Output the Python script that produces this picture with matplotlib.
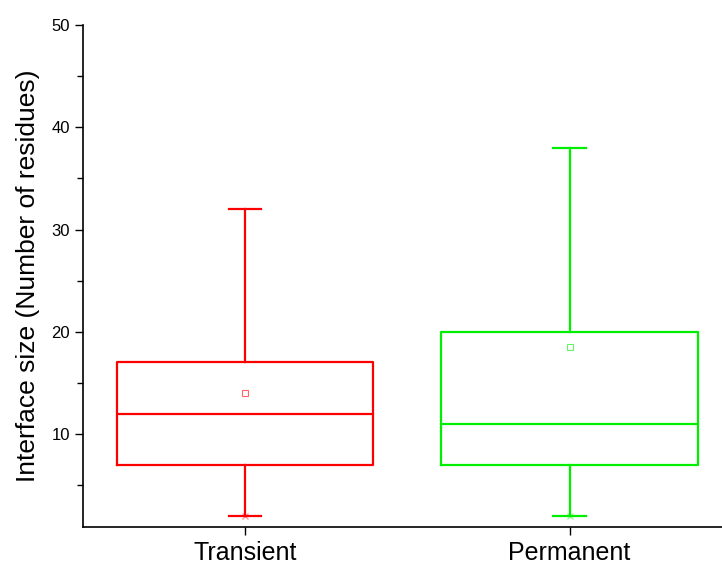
import numpy as np
import matplotlib.pyplot as plt
from matplotlib.ticker import MultipleLocator

plt.rcParams['font.family'] = ['Liberation Sans', 'DejaVu Sans']

# box statistics
groups = ['Transient', 'Permanent']
colors = ['#ff0000', '#00ee00']
whislo = [2, 2]
q1 = [7, 7]
med = [12, 11]
q3 = [17, 20]
whishi = [32, 38]
means = [14, 18.5]

stats = []
for i in range(len(groups)):
    stats.append({'label': groups[i], 'whislo': whislo[i], 'q1': q1[i], 'med': med[i],
                  'q3': q3[i], 'whishi': whishi[i], 'mean': means[i], 'fliers': []})

fig = plt.figure(figsize=(7.22, 5.64), dpi=100)
ax = fig.add_axes([0.115, 0.0656, 0.885, 0.89])

pos = [1, 2]
for i, s in enumerate(stats):
    c = colors[i]
    ax.bxp([s], positions=[pos[i]], widths=0.79, showmeans=True, showfliers=False,
           boxprops=dict(color=c, linewidth=1.6),
           whiskerprops=dict(color=c, linewidth=1.6),
           capprops=dict(color=c, linewidth=1.6),
           medianprops=dict(color=c, linewidth=1.6),
           meanprops=dict(marker='s', markerfacecolor='none', markeredgecolor=c,
                          markersize=4, markeredgewidth=0.8, alpha=0.6),
           capwidths=0.1, manage_ticks=False)
    # min point marker at the lower whisker end
    ax.plot(pos[i], whislo[i], marker='x', color=c, markersize=4, alpha=0.4, lw=0)

ax.set_xlim(0.5, 2.47)
ax.set_ylim(0.9, 50)
ax.set_xticks(pos)
ax.set_xticklabels(groups, fontsize=18)
ax.yaxis.set_major_locator(MultipleLocator(10))
ax.yaxis.set_minor_locator(MultipleLocator(5))
ax.set_yticks([10, 20, 30, 40, 50])
ax.tick_params(axis='y', labelsize=12, direction='out', length=6, width=1)
ax.tick_params(axis='y', which='minor', direction='out', length=4, width=1)
ax.tick_params(axis='x', direction='out', length=6, width=1, pad=4)
ax.set_ylabel('Interface size (Number of residues)', fontsize=19, labelpad=8)

ax.spines['top'].set_visible(False)
ax.spines['right'].set_visible(False)
ax.spines['left'].set_linewidth(1.2)
ax.spines['bottom'].set_linewidth(1.2)

fig.savefig('out.png', dpi=100)
